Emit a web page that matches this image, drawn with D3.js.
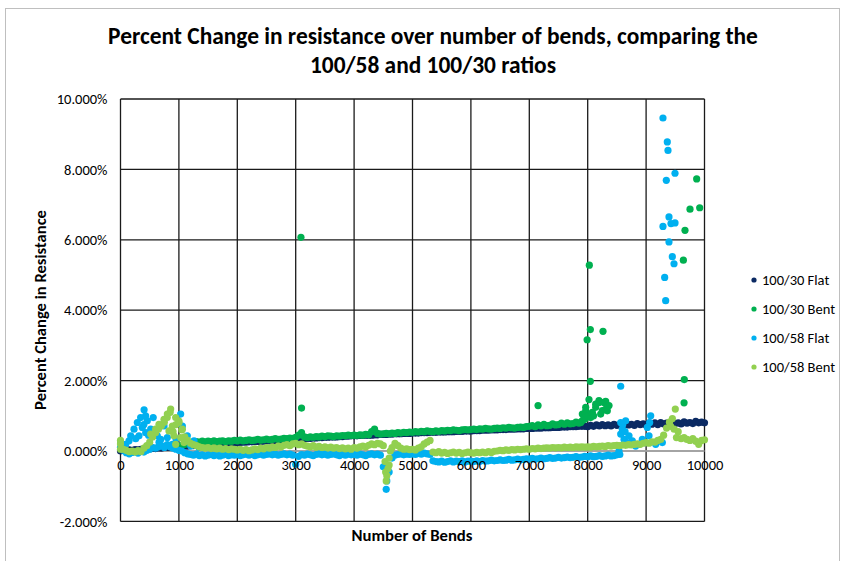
<!DOCTYPE html>
<html>
<head>
<meta charset="utf-8">
<script src="https://cdn.jsdelivr.net/npm/d3@7"></script>
<style>
  body { margin: 0; background: #fff; }
  text { font-family: Carlito, Calibri, Lato, sans-serif; fill: #000; }
</style>
</head>
<body>
<div id="plot"></div>
<script>
// ---- data (percent change) ----
var seriesNames = ["100/30 Flat", "100/30 Bent", "100/58 Flat", "100/58 Bent"];
var seriesColors = ["#0b2a63", "#00b050", "#00b0f0", "#92d050"];
var xTicks = [0, 1000, 2000, 3000, 4000, 5000, 6000, 7000, 8000, 9000, 10000];
var yTicks = [-2, 0, 2, 4, 6, 8, 10];
var step = 50;

// 100/30 Flat, every 50 bends from 0
var flat30Start = 0;
var flat30 = [
  0.00,0.02,0.01,0.03,0.02,0.04,0.03,0.05,0.05,0.06,0.06,0.08,0.07,0.09,0.08,0.10,0.10,0.11,0.11,0.12,
  0.13,0.12,0.14,0.14,0.15,0.15,0.17,0.16,0.18,0.17,0.19,0.19,0.20,0.20,0.21,0.21,0.22,0.22,0.23,0.23,
  0.24,0.24,0.25,0.25,0.26,0.26,0.27,0.27,0.28,0.28,0.29,0.29,0.30,0.30,0.31,0.31,0.32,0.32,0.33,0.33,
  0.34,0.34,0.35,0.35,0.36,0.36,0.37,0.37,0.38,0.38,0.39,0.39,0.40,0.40,0.40,0.41,0.41,0.42,0.42,0.43,
  0.43,0.43,0.44,0.44,0.45,0.45,0.45,0.46,0.46,0.47,0.47,0.47,0.48,0.48,0.49,0.49,0.49,0.50,0.50,0.50,
  0.51,0.51,0.51,0.52,0.52,0.52,0.53,0.53,0.53,0.54,0.54,0.54,0.55,0.55,0.55,0.56,0.56,0.56,0.57,0.57,
  0.57,0.58,0.58,0.58,0.59,0.59,0.59,0.60,0.60,0.60,0.61,0.61,0.61,0.62,0.62,0.62,0.63,0.63,0.63,0.64,
  0.64,0.64,0.65,0.65,0.65,0.66,0.66,0.66,0.67,0.67,0.67,0.68,0.68,0.68,0.69,0.69,0.69,0.70,0.70,0.70,
  0.69,0.73,0.70,0.74,0.71,0.75,0.72,0.74,0.71,0.76,0.73,0.75,0.72,0.77,0.74,0.76,0.73,0.78,0.75,0.77,
  0.74,0.79,0.76,0.80,0.75,0.81,0.77,0.79,0.76,0.82,0.78,0.80,0.77,0.83,0.79,0.81,0.78,0.84,0.80,0.82,
  0.80
];

// 100/30 Bent, every 50 bends from 1000
var bent30Start = 1000;
var bent30 = [
  0.12,0.16,0.19,0.22,0.24,0.26,0.27,0.25,0.28,0.26,0.28,0.27,0.29,0.27,0.28,0.29,0.27,0.29,0.28,0.30,
  0.29,0.31,0.29,0.30,0.32,0.30,0.31,0.33,0.31,0.32,0.34,0.32,0.33,0.35,0.33,0.34,0.36,0.35,0.37,0.36,
  0.39,0.45,0.52,0.40,0.38,0.40,0.39,0.41,0.40,0.42,0.41,0.43,0.42,0.41,0.43,0.42,0.44,0.43,0.45,0.44,
  0.45,0.44,0.46,0.45,0.47,0.46,0.55,0.62,0.50,0.48,0.49,0.50,0.49,0.51,0.50,0.52,0.51,0.53,0.52,0.54,
  0.53,0.55,0.54,0.56,0.55,0.57,0.56,0.55,0.57,0.56,0.58,0.57,0.59,0.58,0.60,0.59,0.58,0.60,0.61,0.60,
  0.61,0.62,0.61,0.63,0.62,0.64,0.63,0.62,0.64,0.65,0.64,0.66,0.65,0.67,0.66,0.65,0.67,0.68,0.67,0.69,
  0.70,0.72,0.69,0.74,0.71,0.76,0.72,0.73,0.77,0.74,0.75,0.79,0.76,0.80,0.77,0.78,0.82,0.79,0.85,0.90
];
// 100/30 Bent, scattered points [bends, %]
var bent30Pts = [
  [7880,0.81],[7908,1.05],[7937,0.95],[7966,1.14],[7966,1.24],[8000,1.00],[8022,1.46],[8050,0.95],
  [8079,1.05],[8079,1.10],[8100,1.00],[8137,1.24],[8137,1.33],[8193,1.43],[8193,1.38],[8222,1.05],
  [8250,1.15],[8279,1.38],[8308,1.19],[8308,1.41],[8336,1.14],[8365,1.29],
  [3090,6.07],[3100,1.22],[7150,1.29],[7990,3.16],[8045,3.45],[8262,3.40],[8028,5.28],[8045,1.98],
  [9638,5.42],[9666,6.27],[9752,6.87],[9866,7.73],[9918,6.91],[9654,2.03],[9650,1.37]
];

// 100/58 Flat, every 50 bends from 0
var flat58Start = 0;
var flat58 = [
  0.10,0.02,-0.05,-0.08,-0.04,-0.02,-0.06,0.00,-0.03,0.02,0.05,0.10,0.08,0.12,0.15,0.10,0.18,0.12,0.08,0.05,
  0.02,0.00,-0.05,-0.08,-0.10,-0.12,-0.09,-0.13,-0.11,-0.14,-0.12,-0.10,-0.13,-0.11,-0.14,-0.12,-0.10,-0.13,-0.11,-0.12,
  -0.10,-0.13,-0.11,-0.09,-0.12,-0.10,-0.13,-0.11,-0.09,-0.12,-0.10,-0.08,-0.11,-0.09,-0.12,-0.10,-0.08,-0.11,-0.09,-0.12,
  -0.38,-0.15,-0.10,-0.12,-0.09,-0.11,-0.13,-0.10,-0.08,-0.11,-0.09,-0.12,-0.10,-0.08,-0.11,-0.13,-0.10,-0.12,-0.09,-0.11,
  -0.10,-0.12,-0.09,-0.11,-0.13,-0.10,-0.08,-0.11,-0.09,-0.12,-0.45,-1.09,-0.60,-0.20,-0.12,-0.10,-0.08,-0.11,-0.09,-0.10,
  -0.08,-0.10,-0.07,-0.09,-0.06,-0.08,-0.10,-0.28,-0.30,-0.31,-0.29,-0.32,-0.30,-0.28,-0.31,-0.29,-0.30,-0.28,-0.31,-0.29,
  -0.29,-0.30,-0.28,-0.30,-0.27,-0.29,-0.28,-0.26,-0.28,-0.27,-0.25,-0.27,-0.26,-0.24,-0.26,-0.25,-0.23,-0.25,-0.24,-0.22,
  -0.23,-0.21,-0.23,-0.22,-0.20,-0.22,-0.21,-0.19,-0.21,-0.20,-0.18,-0.20,-0.19,-0.17,-0.19,-0.18,-0.16,-0.18,-0.17,-0.15,
  -0.16,-0.14,-0.16,-0.15,-0.13,-0.15,-0.14,-0.12,-0.14,-0.13,-0.11,-0.10
];
var flat58Pts = [
  [3,0.24],[89,0.19],[146,0.29],[175,0.43],[231,0.62],[260,0.35],[288,0.81],[317,0.43],[345,0.95],
  [373,0.67],[400,0.75],[404,1.17],[430,1.00],[431,0.52],[459,0.86],[480,0.45],[517,0.62],[560,0.95],
  [600,0.55],[630,0.43],[660,0.25],[688,0.33],[745,0.71],[802,0.38],[888,0.19],[950,0.35],
  [1030,1.05],[1059,0.71],[1144,0.43],[1202,0.14],[1259,0.29],[1344,0.10],
  [8536,0.00],[8565,0.81],[8565,0.48],[8593,0.62],[8600,0.75],[8622,0.33],[8640,0.55],[8650,0.86],
  [8679,0.24],[8707,0.43],[8764,0.29],[8821,0.14],[8878,0.19],[8935,0.33],[8993,0.24],[9021,0.67],
  [9050,0.43],[9061,0.81],[9079,1.00],[9164,0.19],[9278,0.24],
  [9289,9.46],[9363,8.78],[9375,8.54],[9495,7.89],[9346,7.69],[9392,6.65],[9289,6.38],[9426,6.46],
  [9495,6.48],[9392,5.94],[9449,5.52],[9478,5.32],[9318,4.93],[9335,4.27],[8565,1.84],[4560,-0.85]
];

// 100/58 Bent, every 50 bends from 0
var bent58Start = 0;
var bent58 = [
  0.20,0.05,0.02,-0.02,0.00,-0.03,0.01,-0.02,0.08,0.15,0.25,0.40,0.52,0.62,0.72,0.82,0.95,1.10,0.55,0.75,
  0.85,0.60,0.40,0.30,0.22,0.18,0.15,0.12,0.10,0.08,0.10,0.07,0.09,0.06,0.08,0.05,0.07,0.04,0.06,0.05,
  0.03,0.05,0.02,0.04,0.01,0.03,0.06,0.04,0.08,0.06,0.10,0.08,0.12,0.10,0.14,0.12,0.16,0.18,0.15,0.20,
  0.22,0.18,0.20,0.16,0.14,0.12,0.15,0.11,0.13,0.10,0.12,0.09,0.11,0.08,0.10,0.07,0.09,0.06,0.08,0.05,
  0.10,0.08,0.12,0.14,0.12,0.16,0.20,0.18,0.22,0.20,0.15,-0.85,-0.40,0.10,0.22,0.15,0.08,0.05,0.06,0.04,
  0.05,0.03,0.08,0.12,0.20,0.25,0.30,-0.03,-0.05,-0.02,-0.06,-0.04,-0.07,-0.05,-0.03,-0.06,-0.04,-0.07,-0.05,-0.03,
  -0.05,-0.06,-0.04,-0.05,-0.03,-0.05,-0.02,-0.04,-0.01,0.00,0.02,0.01,0.03,0.02,0.04,0.03,0.05,0.04,0.05,0.06,
  0.05,0.07,0.06,0.08,0.07,0.08,0.09,0.08,0.10,0.09,0.10,0.09,0.11,0.10,0.11,0.10,0.12,0.11,0.12,0.11,
  0.12,0.11,0.13,0.12,0.13,0.14,0.13,0.15,0.14,0.15,0.16,0.15,0.17,0.16,0.18,0.17,0.19,0.20,0.19,0.22,
  0.24,0.22,0.26,0.25,0.30,0.33,0.45,0.65,0.82,0.92,1.19,0.55,0.35,0.38,0.33,0.30,0.35,0.28,0.19,0.30,
  0.32
];
var bent58Pts = [
  [0,0.05],[0,0.30],[517,0.48],[602,0.62],[659,0.76],[745,0.90],[802,1.05],[830,0.57],[859,1.19],
  [888,0.71],[916,0.43],[945,0.95],[945,0.19],[1002,0.81],[1030,0.38],[1059,0.62],[1087,0.24],
  [4530,-0.30],[4540,-0.60],[4560,-0.70],[4580,-0.50],[4600,-0.20],[4620,0.00],
  [9420,0.70],[9480,0.62],[9520,0.38]
];

// ---- layout ----
var W = 843, H = 561;
var margin = {top: 99, right: 138.5, bottom: 39.6, left: 120.5};
var width = W - margin.left - margin.right,
    height = H - margin.top - margin.bottom;

var svg = d3.select("div#plot").append("svg")
    .attr("width", W)
    .attr("height", H);

// chart area border
svg.append("rect")
    .attr("x", 5.5).attr("y", 8.5)
    .attr("width", 834).attr("height", 600)
    .attr("fill", "none")
    .attr("stroke", "#bfbfbf");

var xScale = d3.scaleLinear().domain([0, 10000]).range([margin.left, margin.left + width]);
var yScale = d3.scaleLinear().domain([-2, 10]).range([margin.top + height, margin.top]);

function fit(sel, target) {
  var size = parseFloat(sel.style("font-size"));
  var len = sel.node().getComputedTextLength();
  sel.style("font-size", (size * target / len) + "px");
}

// gridlines
svg.append("g").selectAll("line")
  .data(xTicks).enter().append("line")
    .attr("x1", function(d) { return xScale(d); })
    .attr("x2", function(d) { return xScale(d); })
    .attr("y1", yScale(10)).attr("y2", yScale(-2))
    .attr("stroke", "#1a1a1a").attr("stroke-width", 1.3);
svg.append("g").selectAll("line")
  .data(yTicks).enter().append("line")
    .attr("x1", xScale(0)).attr("x2", xScale(10000))
    .attr("y1", function(d) { return yScale(d); })
    .attr("y2", function(d) { return yScale(d); })
    .attr("stroke", "#1a1a1a").attr("stroke-width", 1.3);

// horizontal axis line at 0%, light grey, under the points
svg.append("line")
    .attr("x1", xScale(0)).attr("x2", xScale(10000))
    .attr("y1", yScale(0)).attr("y2", yScale(0))
    .attr("stroke", "#bfbfbf").attr("stroke-width", 1.5);

// y axis labels
var yAxis = svg.append("g")
    .attr("transform", "translate(" + margin.left + ",0)")
    .call(d3.axisLeft(yScale).tickValues(yTicks).tickSize(0).tickPadding(13)
      .tickFormat(function(d) { return d.toFixed(3) + "%"; }));
yAxis.select(".domain").remove();
yAxis.selectAll("text").style("font-size", "14.5px").style("font-family", null);

// points
function expand(start, vals) {
  return vals.map(function(v, i) { return [start + i * step, v]; });
}
var allSeries = [
  expand(flat30Start, flat30),
  expand(bent30Start, bent30).concat(bent30Pts),
  expand(flat58Start, flat58).concat(flat58Pts),
  expand(bent58Start, bent58).concat(bent58Pts)
];

allSeries.forEach(function(pts, k) {
  svg.append("g").selectAll("circle")
    .data(pts).enter().append("circle")
      .attr("cx", function(d) { return xScale(d[0]); })
      .attr("cy", function(d) { return yScale(d[1]); })
      .attr("r", 3.6)
      .attr("fill", seriesColors[k]);
});

// x tick labels just below the 0% line
var xAxis = svg.append("g")
    .attr("transform", "translate(0," + yScale(0) + ")")
    .call(d3.axisBottom(xScale).tickValues(xTicks).tickSize(0).tickPadding(9)
      .tickFormat(d3.format("d")));
xAxis.select(".domain").remove();
xAxis.selectAll("text").style("font-size", "14.5px").style("font-family", null);

// titles
var t1 = svg.append("text")
    .attr("x", 433).attr("y", 44)
    .attr("text-anchor", "middle")
    .attr("font-weight", "bold")
    .style("font-size", "20px")
    .text("Percent Change in resistance over number of bends, comparing the");
fit(t1, 650);
var t2 = svg.append("text")
    .attr("x", 433).attr("y", 73)
    .attr("text-anchor", "middle")
    .attr("font-weight", "bold")
    .style("font-size", t1.style("font-size"))
    .text("100/58 and 100/30 ratios");

var xt = svg.append("text")
    .attr("x", 412).attr("y", 541)
    .attr("text-anchor", "middle")
    .attr("font-weight", "bold")
    .style("font-size", "14px")
    .text("Number of Bends");
fit(xt, 121);

var yt = svg.append("text")
    .attr("transform", "translate(46," + 310 + ") rotate(-90)")
    .attr("text-anchor", "middle")
    .attr("font-weight", "bold")
    .style("font-size", "14px")
    .text("Percent Change in Resistance");
fit(yt, 200);

// legend
var legend = svg.append("g").selectAll("g")
  .data(seriesNames).enter().append("g")
    .attr("transform", function(d, i) { return "translate(754," + (280 + i * 29) + ")"; });
legend.append("circle").attr("r", 2.6)
    .attr("fill", function(d, i) { return seriesColors[i]; });
legend.append("text")
    .attr("x", 8).attr("dy", "0.35em")
    .style("font-size", "14.5px")
    .text(function(d) { return d; });
</script>
</body>
</html>
